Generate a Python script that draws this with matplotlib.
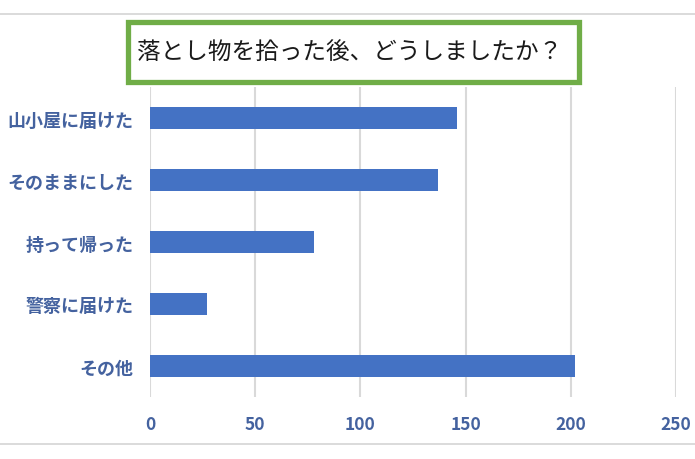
import matplotlib
matplotlib.use('Agg')
import matplotlib.pyplot as plt
from matplotlib.patches import Rectangle
from matplotlib.lines import Line2D

plt.rcParams['font.family'] = ['Noto Sans CJK JP', 'DejaVu Sans']

# data
categories = ['山小屋に届けた', 'そのままにした', '持って帰った', '警察に届けた', 'その他']
counts = [146, 137, 78, 27, 202]
xticks = [0, 50, 100, 150, 200, 250]
title = '落とし物を拾った後、どうしましたか？'

bar_color = '#4472C4'
label_color = '#44629F'
grid_color = '#D9D9D9'

W, H = 695, 460
fig = plt.figure(figsize=(W / 100, H / 100), dpi=100)

# axes placed in pixel terms of the reference
ax = fig.add_axes([150 / W, 1 - 398 / H, (676 - 150) / W, (398 - 88) / H])
ypos = list(range(len(categories)))
ax.barh(ypos, counts, height=0.34, color=bar_color, zorder=3)
ax.set_xlim(0, 250)
ax.set_ylim(len(categories) - 0.5, -0.5)
ax.set_xticks(xticks)
ax.set_xticklabels([str(t) for t in xticks], fontsize=12.5, fontweight='bold', color=label_color)
ax.set_yticks(ypos)
ax.set_yticklabels(categories, fontsize=13, fontweight='bold', color=label_color)
ax.tick_params(axis='both', length=0)
ax.tick_params(axis='x', pad=13)
ax.tick_params(axis='y', pad=12)
ax.xaxis.grid(True, color=grid_color, linewidth=1.5, zorder=0)
for s in ax.spines.values():
    s.set_visible(False)

# horizontal frame lines top/bottom
fig.add_artist(Line2D([0, 1], [1 - 15 / H, 1 - 15 / H], color='#D4D4D4', linewidth=1.2))
fig.add_artist(Line2D([0, 1], [1 - 445 / H, 1 - 445 / H], color='#D4D4D4', linewidth=1.2))

# title box
fig.add_artist(Rectangle((127.5 / W, 1 - 82.5 / H), (578.5 - 127.5) / W, (82.5 - 22.5) / H,
                         transform=fig.transFigure, facecolor='white',
                         edgecolor='#70AD47', linewidth=3.8))
fig.text(350 / W, 1 - 52 / H, title, ha='center', va='center', fontsize=17, color='#1A1A1A')

fig.savefig('out.png', dpi=100)
